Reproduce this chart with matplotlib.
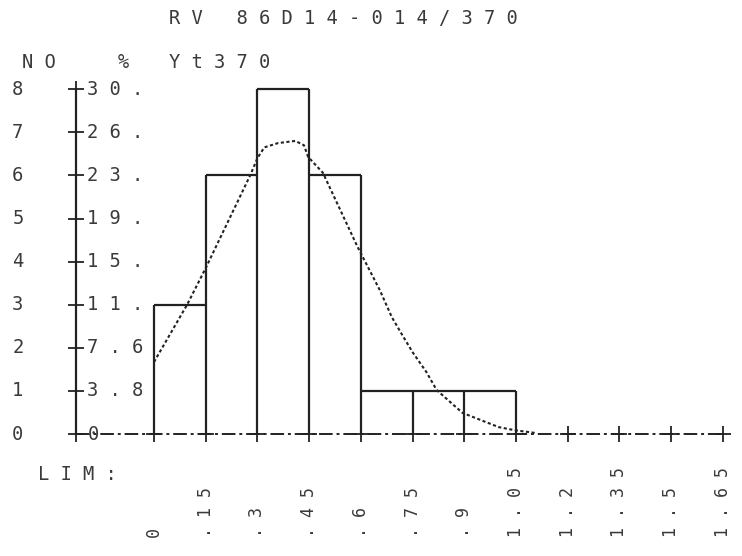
import matplotlib
matplotlib.use("Agg")
import matplotlib.pyplot as plt

# histogram (26 values, class width .15)
bin_edges = [0, .15, .3, .45, .6, .75, .9, 1.05, 1.2, 1.35, 1.5, 1.65]
edge_labels = ["0", ".15", ".3", ".45", ".6", ".75", ".9", "1.05", "1.2", "1.35", "1.5", "1.65"]
counts = [3, 6, 8, 6, 1, 1, 1, 0, 0, 0, 0]
count_labels = ["0", "1", "2", "3", "4", "5", "6", "7", "8"]
pct_labels = ["0", "3.8", "7.6", "11.", "15.", "19.", "23.", "26.", "30."]

# fitted curve, in counts
curve_x = [0.0, 0.096, 0.15, 0.279, 0.30, 0.32, 0.36, 0.41, 0.435, 0.447, 0.49,
           0.59, 0.655, 0.69, 0.72, 0.75, 0.79, 0.82, 0.895, 1.0, 1.045, 1.11]
curve_n = [1.67, 3.0, 3.85, 6.0, 6.40, 6.65, 6.75, 6.80, 6.70, 6.43, 6.06,
           4.35, 3.34, 2.71, 2.30, 1.90, 1.44, 1.02, 0.49, 0.16, 0.09, 0.02]

title = "RV 86D14-014/370"
ylabel_no = "NO"
ylabel_pct = "%"
ylabel_var = "Yt370"
xlabel = "LIM:"


def spaced(s):
    # dot-matrix look: one blank between characters
    return " ".join(s)


ink = "#222222"
txt = "#3a3a3a"
font = dict(family="DejaVu Sans Mono", fontsize=13.5, color=txt)

fig = plt.figure(figsize=(7.42, 5.56), dpi=100)
ax = fig.add_axes([0, 0, 1, 1])
ax.axis("off")

# pixel layout of the printout: x=0 at 154 px, 344.7 px per unit; n=0 at 434 px, 43.1 px per count
ax.set_xlim(-154 / 344.7, (742 - 154) / 344.7)
ax.set_ylim((434 - 556) / 43.1, 434 / 43.1)

width = bin_edges[1] - bin_edges[0]
yax = bin_edges[0] - 1.5 * width  # vertical axis sits 1.5 classes left of 0

# bars as open outlines (no bottom edge, the dashed base line shows through)
n_bars = max(i for i, c in enumerate(counts) if c > 0) + 1
ax.hlines(counts[:n_bars], bin_edges[:n_bars], bin_edges[1:n_bars + 1], color=ink, lw=1.6)
edge_h = [max(counts[i - 1] if i > 0 else 0, counts[i] if i < len(counts) else 0)
          for i in range(n_bars + 1)]
ax.vlines(bin_edges[:n_bars + 1], 0, edge_h, color=ink, lw=1.6)

# axes lines
ax.plot([yax, yax], [0, len(count_labels) - 1], color=ink, lw=1.6)
ax.plot([yax, bin_edges[-1]], [0, 0], color=ink, lw=1.4, linestyle=(0, (7, 2, 1.5, 2)))
ax.plot([yax] * len(count_labels), range(len(count_labels)), "+", color=ink, ms=11, mew=1.3)
ax.plot(bin_edges, [0] * len(bin_edges), "+", color=ink, ms=12, mew=1.3)

# fitted curve
ax.plot(curve_x, curve_n, color=ink, lw=1.5, linestyle=(0, (1.5, 1.2)))

# y labels: counts on the left, percentages right of the axis
for k, (c, p) in enumerate(zip(count_labels, pct_labels)):
    ax.text(yax - 0.17, k, c, ha="center", va="center", **font)
    ax.text(yax + 0.032, k, spaced(p), ha="left", va="center", **font)

# class limits, printed vertically
small = dict(font, fontsize=12)
for e, lab in zip(bin_edges, edge_labels):
    ax.text(e, -2.39, spaced(lab), rotation=90, ha="center", va="bottom", **small)

fig.text(169 / 742, 1 - 18 / 556, spaced(title[:2]) + "   " + spaced(title[3:]),
         ha="left", va="center", **font)
fig.text(22 / 742, 1 - 62 / 556, spaced(ylabel_no), ha="left", va="center", **font)
fig.text(123 / 742, 1 - 62 / 556, ylabel_pct, ha="center", va="center", **font)
fig.text(169 / 742, 1 - 62 / 556, spaced(ylabel_var), ha="left", va="center", **font)
fig.text(38 / 742, 1 - 474 / 556, spaced(xlabel), ha="left", va="center", **font)

fig.savefig("out.png", dpi=100, facecolor="white")
